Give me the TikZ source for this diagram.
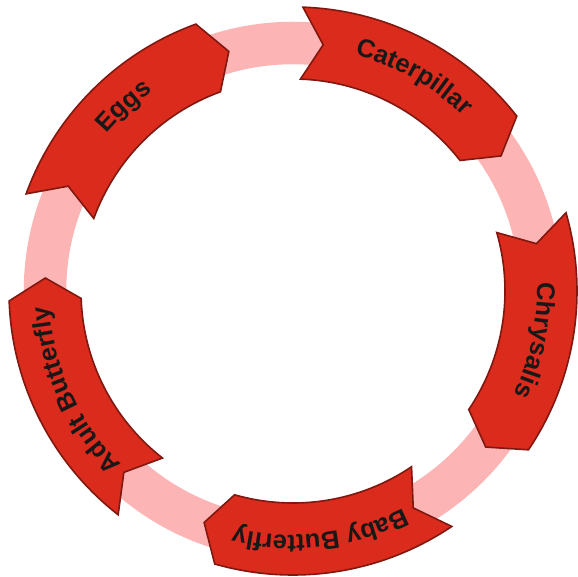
\documentclass[tikz,border=0pt]{standalone}
\usepackage{fontspec}
\newfontfamily\stagefont{Liberation Sans}
\usetikzlibrary{decorations.text}

\definecolor{ringpink}{RGB}{252,180,180}
\definecolor{stagered}{RGB}{219,43,29}
\definecolor{stageedge}{RGB}{128,24,16}
\definecolor{stagetext}{RGB}{24,24,24}

\tikzset{
  cyclering/.style={draw=ringpink, line width=42.5pt},
  stagearrow/.style={fill=stagered, draw=stageedge, line width=1.6pt, line join=miter},
}

% One curved arrow of the cycle: #1 = angle of its tail, #2 = its label.
% The body spans 50 degrees clockwise; the tip and the tail notch reach 5 degrees further.
\newcommand{\cyclestage}[2]{%
  \pgfmathsetmacro{\hd}{#1-50}%
  \pgfmathsetmacro{\tp}{#1-55}%
  \pgfmathsetmacro{\nt}{#1-5}%
  \draw[stagearrow] (#1:284pt) arc[start angle=#1, end angle=\hd, radius=284pt]
    -- (\tp:248pt) -- (\hd:212pt)
    arc[start angle=\hd, end angle=#1, radius=212pt]
    -- (\nt:248pt) -- cycle;
  \path[decorate, decoration={text along path, text align=center,
      text={|\stagefont\bfseries\fontsize{25.5pt}{30pt}\selectfont\color{stagetext}|#2}}]
    (#1:244pt) arc[start angle=#1, end angle=\tp, radius=244pt];
}

\begin{document}
\begin{tikzpicture}
  \useasboundingbox (-293pt,-286pt) rectangle (285pt,291pt);
  \coordinate (hub) at (0,0);

  % background ring
  \draw[cyclering] (hub) circle[radius=248pt];

  % the five stages, clockwise
  \cyclestage{160}{Eggs}
  \cyclestage{88}{Caterpillar}
  \cyclestage{16}{Chrysalis}
  \cyclestage{-56}{Baby Butterfly}
  \cyclestage{-128}{Adult Butterfly}
\end{tikzpicture}
\end{document}
